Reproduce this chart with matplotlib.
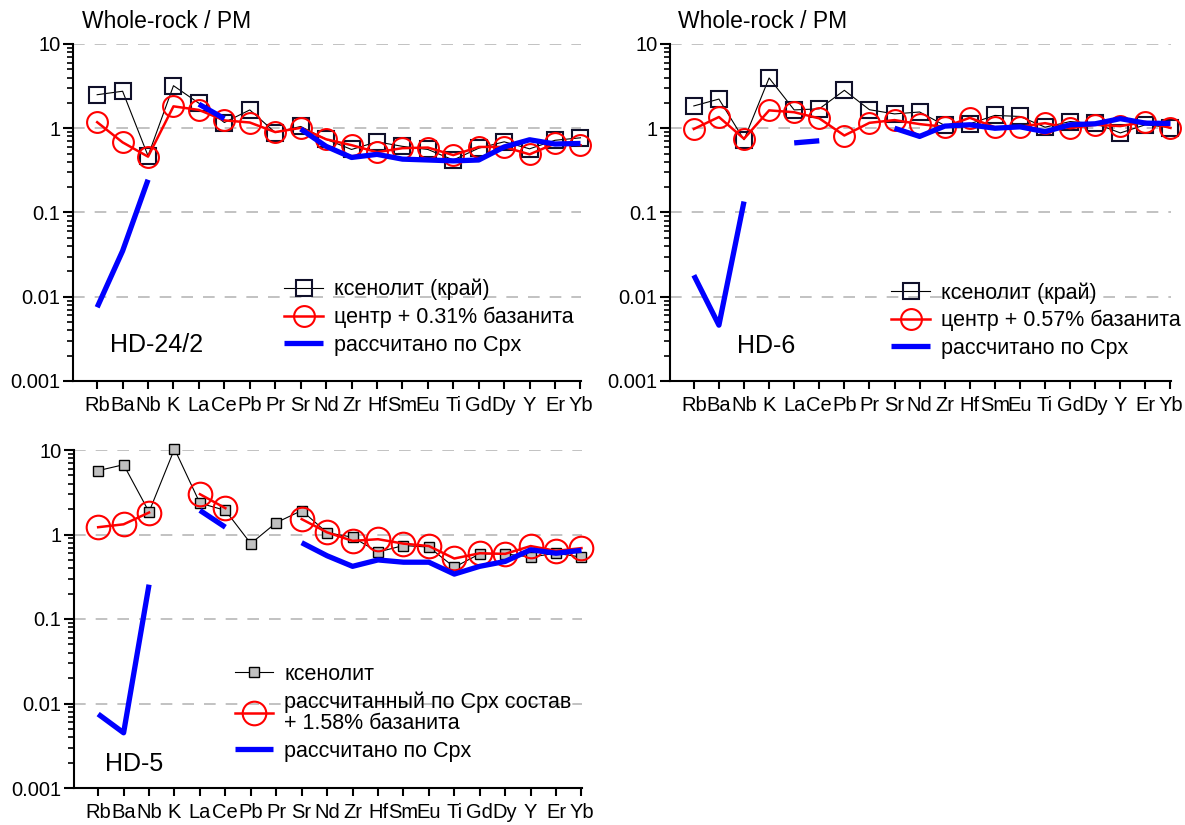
import numpy as np
import matplotlib
matplotlib.use('Agg')
from matplotlib import pyplot as plt

plt.rcParams['font.family'] = ['Liberation Sans', 'DejaVu Sans']

nan = np.nan
# элементы
cats = ['Rb', 'Ba', 'Nb', 'K', 'La', 'Ce', 'Pb', 'Pr', 'Sr', 'Nd', 'Zr', 'Hf',
        'Sm', 'Eu', 'Ti', 'Gd', 'Dy', 'Y', 'Er', 'Yb']

# HD-24/2
hd24_xen = [2.5, 2.75, 0.47, 3.2, 1.98, 1.17, 1.65, 0.89, 1.05, 0.74, 0.56, 0.69,
            0.61, 0.56, 0.42, 0.58, 0.69, 0.57, 0.72, 0.77]
hd24_calc = [1.18, 0.68, 0.46, 1.82, 1.65, 1.24, 1.17, 0.9, 1.01, 0.74, 0.63, 0.52,
             0.58, 0.59, 0.48, 0.6, 0.6, 0.49, 0.66, 0.63]
hd24_cpx = [0.0075, 0.035, 0.245, nan, 1.93, 1.3, nan, nan, 0.98, 0.61, 0.45, 0.49,
            0.43, 0.42, 0.41, 0.42, 0.6, 0.73, 0.65, 0.66]

# HD-6
hd6_xen = [1.84, 2.22, 0.73, 3.95, 1.65, 1.7, 2.82, 1.66, 1.48, 1.56, 1.08, 1.13,
           1.42, 1.38, 1.03, 1.2, 1.14, 0.88, 1.1, 1.02]
hd6_calc = [0.98, 1.36, 0.75, 1.63, 1.55, 1.31, 0.82, 1.16, 1.25, 1.12, 1.04, 1.33,
            1.03, 1.04, 1.15, 1.0, 1.1, 1.06, 1.19, 1.01]
hd6_cpx = [0.018, 0.0046, 0.135, nan, 0.67, 0.71, nan, nan, 1.0, 0.8, 1.06, 1.1,
           1.0, 1.04, 0.91, 1.1, 1.13, 1.3, 1.15, 1.14]

# HD-5
hd5_xen = [5.7, 6.7, 1.85, 10.3, 2.35, 1.93, 0.78, 1.38, 1.92, 1.05, 0.93, 0.62,
           0.74, 0.71, 0.41, 0.59, 0.59, 0.54, 0.6, 0.54]
hd5_calc = [1.22, 1.32, 1.82, nan, 3.0, 2.05, nan, nan, 1.52, 1.06, 0.84, 0.88,
            0.78, 0.73, 0.52, 0.6, 0.59, 0.73, 0.64, 0.69]
hd5_cpx = [0.0075, 0.0045, 0.255, nan, 1.93, 1.22, nan, nan, 0.8, 0.56, 0.42, 0.5,
           0.47, 0.47, 0.34, 0.42, 0.48, 0.66, 0.6, 0.65]

x = np.arange(len(cats))
W, H = 1185, 825
fig = plt.figure(figsize=(W / 100, H / 100), dpi=100)


def make_ax(l, r, top, bot):
    ax = fig.add_axes([l / W, 1 - bot / H, (r - l) / W, (bot - top) / H])
    ax.set_yscale('log')
    ax.set_ylim(0.001, 10)
    ax.set_xlim(-0.95, 19.02)
    ax.set_xticks(x)
    ax.set_xticklabels(cats)
    ax.set_yticks([0.001, 0.01, 0.1, 1, 10])
    ax.set_yticklabels(['0.001', '0.01', '0.1', '1', '10'])
    for s in ['top', 'right']:
        ax.spines[s].set_visible(False)
    for s in ['left', 'bottom']:
        ax.spines[s].set_linewidth(1.5)
    ax.tick_params(axis='y', which='major', length=7, width=1.5, labelsize=14.5, pad=2)
    ax.tick_params(axis='y', which='minor', length=4, width=1.2)
    ax.tick_params(axis='x', length=6, width=1.5, labelsize=14.5, pad=4.5)
    for v in [0.01, 0.1, 1, 10]:
        ax.axhline(v, color='#b8b8b8', lw=1.2, dashes=(7, 6), zorder=0)
    return ax


def draw(ax, xen, calc, cpx, labels, small=False):
    if small:
        ax.plot(x, xen, color='black', lw=0.8, marker='s', ms=7, mfc='#c0c0c0',
                mec='black', mew=1.0, label=labels[0], zorder=2, clip_on=False)
        ax.plot(x, calc, color='red', lw=1.8, marker='o', ms=17, mfc='none',
                mec='red', mew=1.5, label=labels[1], zorder=3, clip_on=False)
    else:
        ax.plot(x, xen, color='black', lw=0.8, marker='s', ms=11, mfc='none',
                mec='#10102a', mew=1.5, label=labels[0], zorder=2, clip_on=False)
        ax.plot(x, calc, color='red', lw=1.8, marker='o', ms=15, mfc='none',
                mec='red', mew=1.5, label=labels[1], zorder=3, clip_on=False)
    ax.plot(x, cpx, color='#0000ff', lw=3.8, solid_capstyle='butt',
            label=labels[2], zorder=4)


def add_legend(ax, anchor):
    leg = ax.legend(loc='upper left', bbox_to_anchor=anchor, frameon=False, fontsize=15.5,
                    handlelength=1.8, handletextpad=0.5, labelspacing=0.3, borderpad=0)
    for t in leg.get_texts():
        t.set_linespacing(1.05)
    return leg


# HD-24/2
ax1 = make_ax(73, 581, 44, 381)
draw(ax1, hd24_xen, hd24_calc, hd24_cpx,
     ['ксенолит (край)', 'центр + 0.31% базанита', 'рассчитано по Cpx'])
add_legend(ax1, (0.395, 0.335))
ax1.text(0.073, 0.107, 'HD-24/2', transform=ax1.transAxes, fontsize=18, va='center')
fig.text(82 / W, 1 - 22 / H, 'Whole-rock / PM', fontsize=16.5, va='center')

# HD-6
ax2 = make_ax(670, 1171, 44, 381)
draw(ax2, hd6_xen, hd6_calc, hd6_cpx,
     ['ксенолит (край)', 'центр + 0.57% базанита', 'рассчитано по Cpx'])
add_legend(ax2, (0.42, 0.325))
ax2.text(0.134, 0.104, 'HD-6', transform=ax2.transAxes, fontsize=18, va='center')
fig.text(678 / W, 1 - 22 / H, 'Whole-rock / PM', fontsize=16.5, va='center')

# HD-5
ax3 = make_ax(74, 582, 450, 788)
draw(ax3, hd5_xen, hd5_calc, hd5_cpx,
     ['ксенолит', 'рассчитанный по Cpx состав\n+ 1.58% базанита', 'рассчитано по Cpx'],
     small=True)
add_legend(ax3, (0.295, 0.40))
ax3.text(0.061, 0.071, 'HD-5', transform=ax3.transAxes, fontsize=18, va='center')

fig.savefig('out.png', dpi=100)
